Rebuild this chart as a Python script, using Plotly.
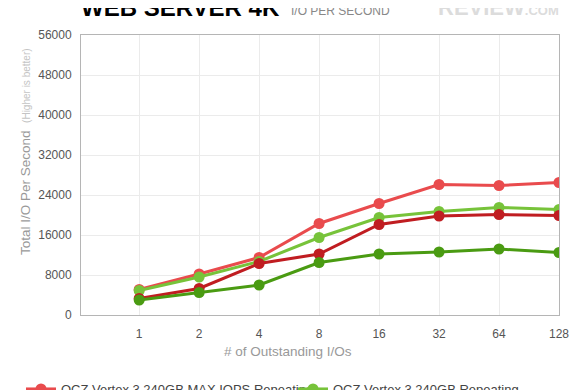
import plotly.graph_objects as go

categories = ["1", "2", "4", "8", "16", "32", "64", "128"]
maxiops_rep = [5100, 8200, 11500, 18300, 22300, 26100, 25900, 26500]
maxiops_rnd = [3300, 5300, 10300, 12200, 18100, 19800, 20100, 19900]
std_rep = [4900, 7600, 10700, 15500, 19500, 20700, 21500, 21100]
std_rnd = [3000, 4500, 6000, 10500, 12200, 12600, 13200, 12500]
y_ticks = [0, 8000, 16000, 24000, 32000, 40000, 48000, 56000]

series = [
    ("OCZ Vertex 3 240GB MAX IOPS Repeating", maxiops_rep, "#e94b4d"),
    ("OCZ Vertex 3 240GB Repeating", std_rep, "#77c33a"),
    ("OCZ Vertex 3 240GB MAX IOPS Full Random", maxiops_rnd, "#c01d21"),
    ("OCZ Vertex 3 240GB Full Random", std_rnd, "#4a9b12"),
]

# page body has an 8px margin; work in window pixels and shift
OFF = 8
W, H = 580 - OFF, 390 - OFF
PL, PR, PT, PB = 81, 559, 35, 315  # plot box in window pixels
L, R, T, B = PL - OFF, W - (PR - OFF), PT - OFF, H - (PB - OFF)
pw, ph = W - L - R, H - T - B

def px(x):
    return (x - OFF - L) / pw

def py(y):
    return (H - B - (y - OFF)) / ph

fig = go.Figure()
for name, vals, color in series:
    fig.add_trace(go.Scatter(
        x=categories, y=vals, name=name, mode="lines+markers",
        line=dict(color=color, width=3),
        marker=dict(color=color, size=11),
    ))

fig.update_layout(
    width=W, height=H,
    margin=dict(l=L, r=R, t=T, b=B, autoexpand=False),
    paper_bgcolor="white", plot_bgcolor="white",
    font=dict(family="Liberation Sans, Arial, sans-serif", color="#555", size=12),
    xaxis=dict(
        type="category", range=[-0.97, 7],
        showgrid=True, gridcolor="#ebebeb", gridwidth=1,
        showline=True, linecolor="#b5b5b5", mirror=True,
        ticks="outside", ticklen=8, tickcolor="rgba(0,0,0,0)",
        tickfont=dict(size=12, color="#555"),
        zeroline=False,
    ),
    yaxis=dict(
        range=[0, 56000], tickvals=y_ticks, ticktext=[str(v) for v in y_ticks],
        showgrid=True, gridcolor="#ebebeb", gridwidth=1,
        showline=True, linecolor="#b5b5b5", mirror=True,
        ticks="outside", ticklen=6, tickcolor="rgba(0,0,0,0)",
        tickfont=dict(size=12, color="#555"),
        zeroline=False,
    ),
    legend=dict(
        orientation="h", x=px(21), xanchor="left", y=py(374), yanchor="top",
        font=dict(size=13, color="#444"), entrywidth=227,
        bgcolor="rgba(0,0,0,0)",
    ),
    showlegend=True,
)

fig.add_annotation(
    xref="paper", yref="paper", x=px(79), y=py(8), xanchor="left", yanchor="middle",
    text="<b>WEB SERVER 4K</b>", showarrow=False,
    font=dict(size=24, color="#000", family="Liberation Sans, Arial, sans-serif"),
)
fig.add_annotation(
    xref="paper", yref="paper", x=px(289), y=py(11), xanchor="left", yanchor="middle",
    text="I/O PER SECOND", showarrow=False,
    font=dict(size=12, color="#888"),
)
fig.add_annotation(
    xref="paper", yref="paper", x=px(561), y=py(8), xanchor="right", yanchor="middle",
    text="<b>REVIEW</b><span style='font-size:13px'><b>.COM</b></span>", showarrow=False,
    font=dict(size=22, color="#dcdcdc"),
)
fig.add_annotation(
    xref="paper", yref="paper", x=px(288), y=py(351), xanchor="center", yanchor="middle",
    text="# of Outstanding I/Os", showarrow=False,
    font=dict(size=13.5, color="#999"),
)
fig.add_annotation(
    xref="paper", yref="paper", x=px(25), y=py(152), xanchor="center", yanchor="middle",
    text="Total I/O Per Second  <span style='font-size:10px;color:#c4c4c4'>(Higher is better)</span>",
    showarrow=False, textangle=-90,
    font=dict(size=13.5, color="#999"),
)

fig.write_html("out.html")
